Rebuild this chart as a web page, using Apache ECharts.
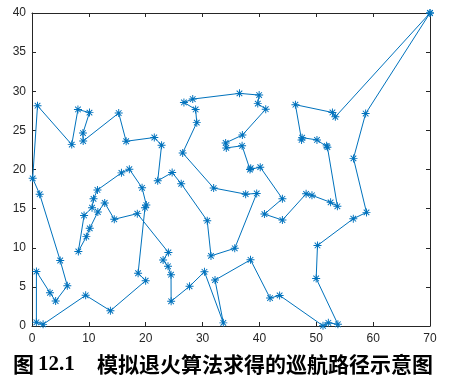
<!DOCTYPE html>
<html>
<head>
<meta charset="utf-8">
<script src="https://cdn.jsdelivr.net/npm/echarts@6/dist/echarts.min.js"></script>
<style>html,body{margin:0;padding:0;background:#fff}#c{width:451px;height:385px}</style>
</head>
<body>
<div id="c"></div>
<script>
// Route (visiting order), starting and ending at the base (70,40)
const routeX = [70, 58.68, 56.54, 58.83, 56.51, 50.21, 49.98, 53.80, 52.12, 51.18,
  43.55, 41.87, 38.43, 32.19, 33.65, 30.33, 27.71, 24.47, 24.45, 23.92,
  23.06, 23.99, 18.52, 14.47, 12.79, 11.58, 10.16, 9.56, 8.15, 9.16,
  10.56, 10.82, 11.51, 15.73, 17.12, 19.36, 20.11, 19.87, 18.66, 19.99,
  13.79, 9.44, 1.95, 0.77, 0.78, 3.16, 4.16, 6.21, 4.96, 1.35,
  0.12, 0.97, 6.99, 8.08, 10.11, 8.96, 9.00, 15.25, 16.56, 21.51,
  22.79, 22.11, 24.65, 26.24, 30.82, 31.48, 35.66, 39.52, 37.58, 31.95,
  26.50, 28.98, 28.78, 26.72, 28.27, 36.49, 39.95, 39.71, 41.11, 37.00,
  34.06, 34.17, 36.95, 38.34, 38.47, 40.14, 44.04, 40.88, 44.04, 48.21,
  49.24, 52.52, 53.71, 51.96, 51.82, 50.12, 47.51, 47.41, 46.33, 52.84,
  53.35, 70];
const routeY = [40, 27.15, 21.42, 14.52, 13.71, 10.29, 6.08, 0.22, 0.41, 0.03,
  3.91, 3.57, 8.46, 5.87, 0.40, 6.93, 5.07, 3.16, 6.56, 7.63,
  8.43, 9.40, 14.36, 13.64, 15.73, 14.57, 12.48, 11.42, 9.53, 14.13,
  15.12, 16.25, 17.39, 19.57, 20.04, 17.66, 15.46, 15.12, 6.74, 5.79,
  1.95, 3.92, 0.21, 0.47, 6.96, 4.24, 3.19, 5.14, 8.37, 16.84,
  18.87, 28.15, 23.18, 27.67, 27.27, 24.66, 23.64, 27.21, 23.61, 24.09,
  23.10, 18.56, 19.61, 18.18, 13.46, 8.96, 9.93, 16.94, 16.85, 17.63,
  22.12, 25.99, 27.67, 28.57, 29.00, 29.73, 29.51, 28.42, 27.71, 24.40,
  23.40, 22.76, 23.03, 20.00, 20.17, 20.30, 16.26, 14.30, 13.54, 16.89,
  16.70, 15.80, 15.30, 22.85, 23.02, 23.78, 24.07, 23.78, 28.28, 27.29,
  26.73, 40];
const xTicks = [0, 10, 20, 30, 40, 50, 60, 70];
const yTicks = [0, 5, 10, 15, 20, 25, 30, 35, 40];
const captionNo = '图';
const captionNum = '12.1';
const captionText = '模拟退火算法求得的巡航路径示意图';

const star = 'path://M8.8 0 L11.2 0 L11.2 20 L8.8 20 Z ' +
  'M0 8.8 L20 8.8 L20 11.2 L0 11.2 Z ' +
  'M3.85 2.15 L17.85 16.15 L16.15 17.85 L2.15 3.85 Z ' +
  'M16.15 2.15 L17.85 3.85 L3.85 17.85 L2.15 16.15 Z';

const data = routeX.map((x, i) => [x, routeY[i]]);
const axisColor = '#262626';
const lab = {color: axisColor, fontSize: 12, fontFamily: 'Liberation Sans, Arial, sans-serif'};

function xAx(pos, showLabel) {
  return {type: 'value', position: pos, min: xTicks[0], max: xTicks[xTicks.length - 1], interval: 10,
    axisLine: {show: true, onZero: false, lineStyle: {color: axisColor, width: 1}},
    axisTick: {show: true, inside: true, length: 4, lineStyle: {color: axisColor}},
    axisLabel: Object.assign({show: showLabel, margin: 7}, lab),
    splitLine: {show: false}};
}
function yAx(pos, showLabel) {
  return {type: 'value', position: pos, min: yTicks[0], max: yTicks[yTicks.length - 1], interval: 5,
    axisLine: {show: true, onZero: false, lineStyle: {color: axisColor, width: 1}},
    axisTick: {show: true, inside: true, length: 4, lineStyle: {color: axisColor}},
    axisLabel: Object.assign({show: showLabel, margin: 6}, lab),
    splitLine: {show: false}};
}

const chart = echarts.init(document.getElementById('c'), null, {renderer: 'canvas'});
chart.setOption({
  animation: false,
  backgroundColor: '#fff',
  grid: {left: 32, right: 21, top: 13, bottom: 59, containLabel: false},
  xAxis: [xAx('bottom', true), xAx('top', false)],
  yAxis: [yAx('left', true), yAx('right', false)],
  series: [{
    type: 'line', xAxisIndex: 0, yAxisIndex: 0, data: data,
    clip: false, showAllSymbol: true,
    symbol: star, symbolSize: 8, symbolKeepAspect: true,
    lineStyle: {color: '#0072BD', width: 1},
    itemStyle: {color: '#0072BD', borderWidth: 0}
  }],
  graphic: [
    {type: 'text', x: 13, y: 364, style: {text: captionNo, fontSize: 21, fontWeight: 'bold', fontFamily: 'Noto Sans CJK SC', fill: '#000', verticalAlign: 'middle', align: 'left'}},
    {type: 'text', x: 38, y: 365, style: {text: captionNum, fontSize: 21, fontWeight: 'bold', fontFamily: 'Liberation Serif, serif', fill: '#000', verticalAlign: 'middle', align: 'left'}},
    {type: 'text', x: 97, y: 364, style: {text: captionText, fontSize: 21, fontWeight: 'bold', fontFamily: 'Noto Sans CJK SC', fill: '#000', verticalAlign: 'middle', align: 'left'}}
  ]
});
</script>
</body>
</html>
